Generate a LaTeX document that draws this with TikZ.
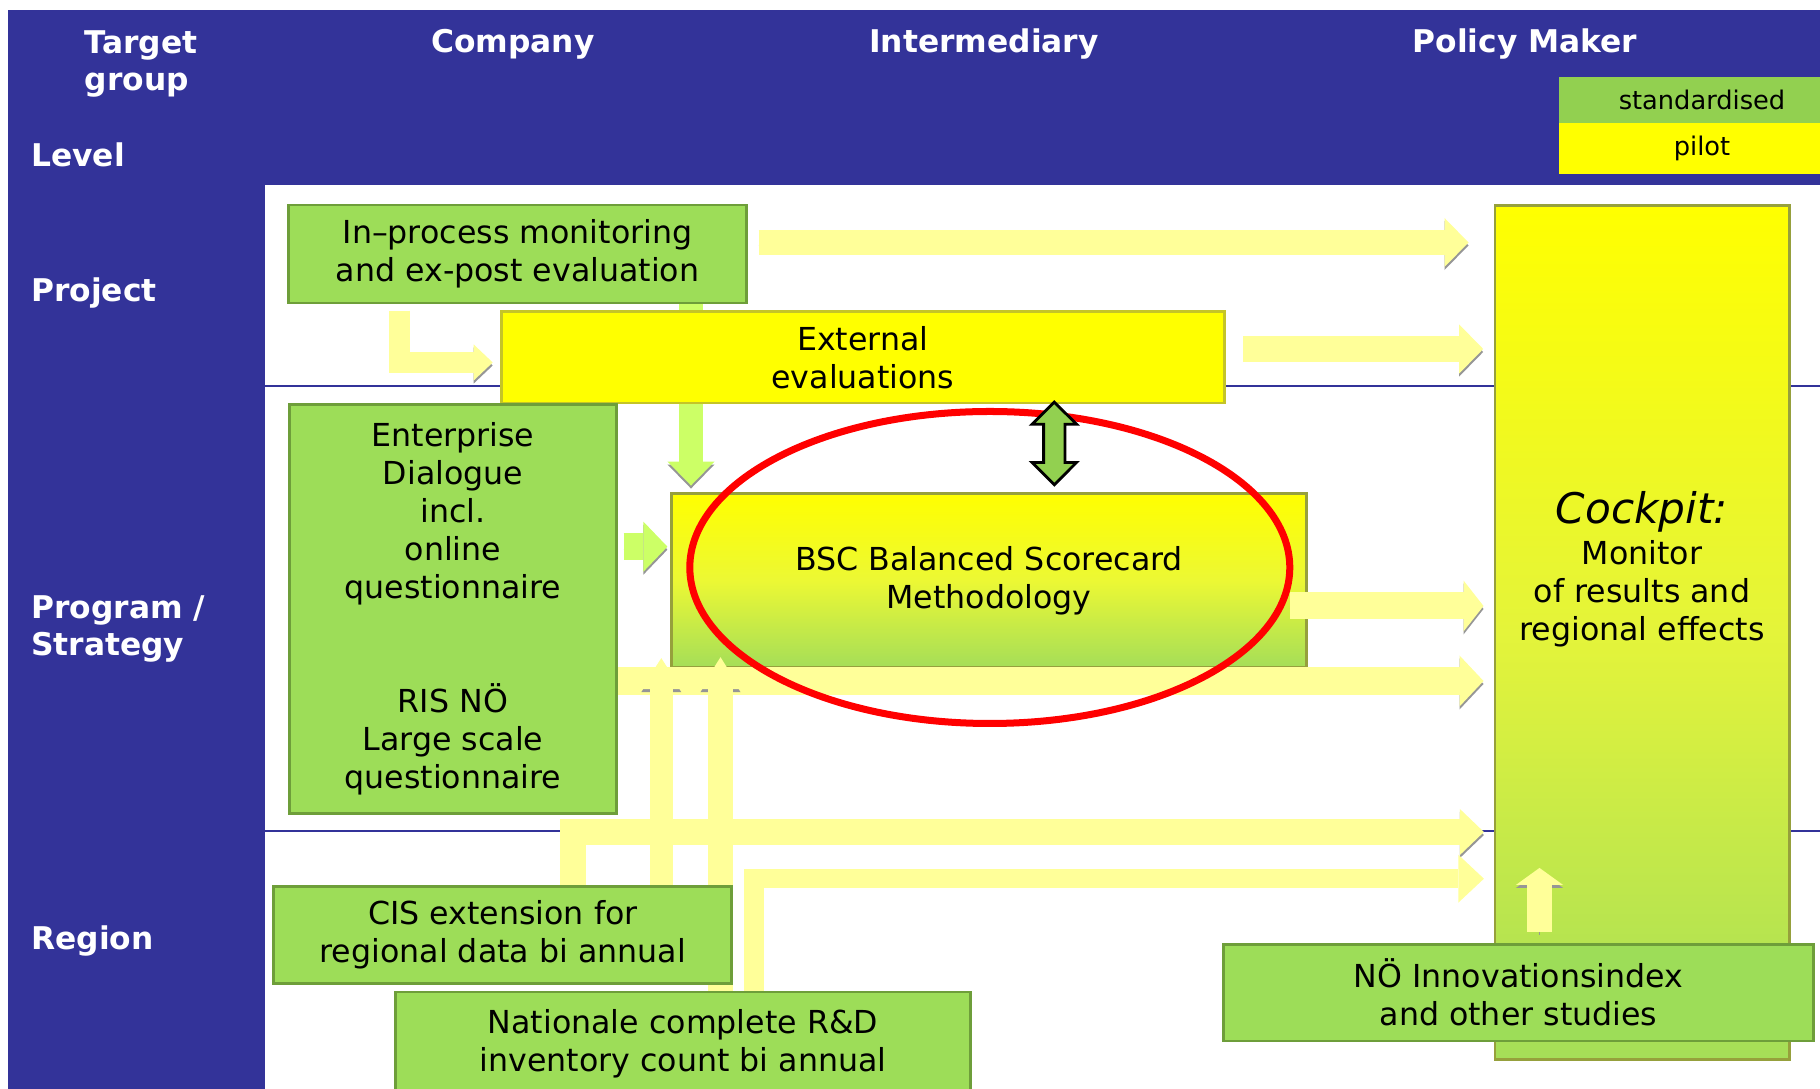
\documentclass[tikz,border=0pt]{standalone}
\usepackage{fontspec}
\setmainfont{DejaVu Sans}
\usetikzlibrary{arrows.meta,calc}
\definecolor{hdrblue}{RGB}{51,51,153}
\definecolor{boxgreen}{RGB}{157,221,88}
\definecolor{boxedge}{RGB}{110,158,58}
\definecolor{pilotyellow}{RGB}{255,255,0}
\definecolor{pilotedge}{RGB}{196,196,40}
\definecolor{keygreen}{RGB}{146,208,80}
\definecolor{flowyellow}{RGB}{255,255,153}
\definecolor{flowgreen}{RGB}{204,255,102}
\definecolor{flowshade}{RGB}{150,150,150}
\definecolor{bscmid}{RGB}{236,248,52}
\definecolor{pitmid}{RGB}{228,244,58}
\definecolor{fadegreen}{RGB}{165,222,88}
\definecolor{fadeedge}{RGB}{150,160,60}
\pgfdeclarelayer{back}
\pgfdeclarelayer{lower}
\pgfdeclarelayer{flows}
\pgfdeclarelayer{front}
\pgfsetlayers{back,lower,flows,main,front}
\newcommand\boxfont{\fontsize{9pt}{10.8pt}\selectfont}
\newcommand\headfont{\fontsize{8.9pt}{10.6pt}\selectfont\bfseries}
\newcommand\keyfont{\fontsize{7.3pt}{8.8pt}\selectfont}
\tikzset{
  std box/.style={rectangle,draw=boxedge,line width=0.8pt,fill=boxgreen,align=center,inner sep=0pt,font=\boxfont},
  pilot box/.style={std box,draw=pilotedge,fill=pilotyellow},
  fade box/.style={std box,draw=fadeedge,top color=pilotyellow,bottom color=fadegreen},
  head text/.style={text=white,font=\headfont,inner sep=0pt},
  key/.style={rectangle,inner sep=0pt,font=\keyfont,minimum width=2.86cm},
  flow head/.style 2 args={-{Triangle[width=#1,length=#2,line width=0pt]}},
  flow plain/.style={draw=flowyellow,line width=0.25cm,line join=miter,flow head={0.49cm}{0.24cm}},
  flow/.style={flow plain,preaction={draw=flowshade,transform canvas={yshift=-0.03cm}}},
  green flow/.style={flow,draw=flowgreen},
  twoway/.style={fill=keygreen,draw=black,line width=0.8pt,line join=miter},
  focus ring/.style={draw=red,line width=0.07cm}
}
\begin{document}
\begin{tikzpicture}[x=0.01cm,y=-0.01cm]
\useasboundingbox (0,0) rectangle (1820,1089);
\begin{pgfonlayer}{back}
  \fill[white] (0,0) rectangle (1820,1089);
  \fill[hdrblue] (8.4,10) rectangle (1820,185);
  \fill[hdrblue] (8.4,10) rectangle (264.7,1089);
  \draw[hdrblue,line width=0.6pt] (264.7,386) -- (1820,386);
  \draw[hdrblue,line width=0.6pt] (264.7,830.7) -- (1820,830.7);
\end{pgfonlayer}

% header and levels
\node[head text,anchor=north west,align=left] (target) at (84,30) {Target\\group};
\node[head text,anchor=base west] (level) at (30.6,167) {Level};
\node[head text,anchor=base] (company) at (513,53) {Company};
\node[head text,anchor=base] (interm) at (984,53) {Intermediary};
\node[head text,anchor=base] (policy) at (1525,53) {Policy Maker};
\node[head text,anchor=base west] (project) at (30.6,301.7) {Project};
\node[head text,anchor=north west,align=left] (program) at (30.6,595) {Program /\\Strategy};
\node[head text,anchor=base west] (region) at (30.6,949.5) {Region};
\node[key,fill=keygreen,minimum height=0.46cm] (standard) at (1702,100) {standardised};
\node[key,fill=pilotyellow,minimum height=0.51cm] (pilot) at (1702,148.5) {pilot};

% boxes
\node[std box,minimum width=4.57cm,minimum height=0.98cm] (inproc) at (517.5,254) {In--process monitoring\\and ex-post evaluation};
\node[pilot box,minimum width=7.223cm,minimum height=0.913cm] (extern) at (862.9,357.4) {External\\evaluations};
\node[std box,minimum width=3.272cm,minimum height=4.08cm] (dialogue) at (453,609)
  {Enterprise\\Dialogue\\incl.\\online\\questionnaire\\[21.6pt]RIS NÖ\\Large scale\\questionnaire};
\begin{pgfonlayer}{lower}
  \node[fade box,middle color=bscmid,minimum width=6.34cm,minimum height=1.74cm] (bsc) at (989,580.3) {BSC Balanced Scorecard\\Methodology};
\end{pgfonlayer}
\node[fade box,middle color=pitmid,minimum width=2.94cm,minimum height=8.53cm] (cockpit) at (1642,632.5) {};
\node[font=\boxfont,align=center,anchor=north,inner sep=0pt] (cockpit text) at ($(cockpit.north)+(0,286.6)$)
  {{\fontsize{12pt}{14pt}\selectfont\itshape Cockpit:}\\[0.9pt]Monitor\\of results and\\regional effects};
\node[std box,minimum width=4.576cm,minimum height=0.966cm] (cis) at (502.8,935) {CIS extension for\\regional data bi annual};
\node[std box,minimum width=5.74cm,minimum height=1.03cm] (rnd) at (683,1043.6) {Nationale complete R\&D\\inventory count bi annual};
\node[std box,minimum width=5.90cm,minimum height=0.967cm] (index) at (1518.5,992.7) {NÖ Innovationsindex\\and other studies};

% flows
\begin{pgfonlayer}{flows}
  \draw[flow] ([shift={(11,-11.5)}]inproc.east) coordinate (f1) -- ($(f1 -| cockpit.west)+(-25,0)$);
  \draw[flow,line width=0.257cm] ([shift={(17.5,-8.4)}]extern.east) coordinate (f2) -- ($(f2 -| cockpit.west)+(-10.3,0)$);
  \draw[flow,line width=0.216cm,flow head={0.36cm}{0.19cm}] ([shift={(-118,6.3)}]inproc.south) |- ([shift={(-7.4,5.1)}]extern.west);
  \draw[green flow,line width=0.24cm,flow head={0.47cm}{0.24cm}] ([shift={(173.5,0)}]inproc.south) coordinate (f4) -- ($(f4 |- bsc.north)+(0,-6.3)$);
  \draw[green flow,line width=0.267cm,flow head={0.50cm}{0.24cm}] ([shift={(5.4,-62.3)}]dialogue.east) coordinate (f5) -- ($(f5 -| bsc.west)+(-3,0)$);
  \draw[flow,line width=0.27cm,flow head={0.51cm}{0.20cm}] ([shift={(-18,25.7)}]bsc.east) coordinate (f6) -- ($(f6 -| cockpit.west)+(-10,0)$);
  \draw[flow,line width=0.273cm,flow head={0.51cm}{0.24cm}] ([shift={(0,72)}]dialogue.east) coordinate (f7) -- ($(f7 -| cockpit.west)+(-10,0)$);
  \draw[flow,line width=0.257cm,flow head={0.46cm}{0.24cm}] ([shift={(70.2,0)}]cis.north) |- ($(cockpit.west)+(-9.6,199.5)$);
  \draw[flow plain,line width=0.193cm,flow head={0.48cm}{0.256cm}] ([shift={(71,0)}]rnd.north) |- ($(cockpit.west)+(-9.6,246.2)$);
  \draw[flow,line width=0.225cm,flow head={0.40cm}{0.31cm}] ([shift={(158.5,0)}]cis.north) coordinate (f10) -- ($(f10 |- bsc.south)+(0,-10.6)$);
  \draw[flow,line width=0.244cm,flow head={0.40cm}{0.32cm}] ([shift={(37.5,0)}]rnd.north) coordinate (f11) -- ($(f11 |- bsc.south)+(0,-11.6)$);
\end{pgfonlayer}

\begin{pgfonlayer}{front}
  \draw[flow,line width=0.244cm,flow head={0.47cm}{0.17cm}] ([shift={(21,-11)}]index.north) coordinate (f12) -- ++(0,-64);
  \draw[focus ring] ($(bsc.center)+(0.8,-12.8)$) ellipse [x radius=300,y radius=156];
  \coordinate (link) at ($(extern.south)+(191.4,39)$);
  \draw[twoway,shift={(link)}] (0,-41.3) -- (22.2,-19.3) -- (10.7,-19.3) -- (10.7,19) -- (22.2,19) -- (0,41.3)
    -- (-22.2,19) -- (-10.7,19) -- (-10.7,-19.3) -- (-22.2,-19.3) -- cycle;
\end{pgfonlayer}
\end{tikzpicture}
\end{document}
